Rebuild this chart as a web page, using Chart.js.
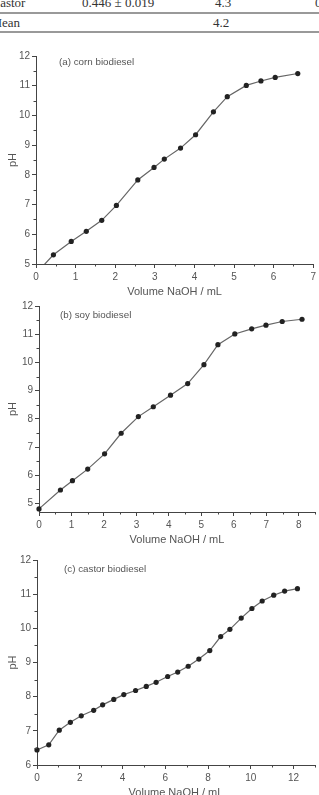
<!DOCTYPE html>
<html>
<head>
<meta charset="utf-8">
<script src="https://cdn.jsdelivr.net/npm/chart.js@4.4.1/dist/chart.umd.min.js"></script>
<style>
  html, body { margin: 0; padding: 0; background: #fff; }
  body { width: 319px; height: 795px; position: relative; overflow: hidden; }
  .cell { position: absolute; font-family: 'Liberation Serif', serif; font-size: 13px; color: #333; white-space: nowrap; line-height: 14px; }
  .rule { position: absolute; left: 0; width: 319px; background: #999; }
  .box { position: absolute; left: 0; }
  .label { position: absolute; font-family: 'Liberation Sans', Arial, sans-serif; font-size: 9.8px; color: #555; white-space: nowrap; line-height: 12px; }
</style>
</head>
<body>

<!-- bout de tableau coupé en haut -->
<div class="cell" style="left:-8.5px; top:-4px;">Castor</div>
<div class="cell" style="left:82px; top:-4px;">0.446 ± 0.019</div>
<div class="cell" style="left:215px; top:-4px;">4.3</div>
<div class="cell" style="left:315px; top:-4px;">0</div>
<div class="rule" style="top:12px; height:1.5px;"></div>
<div class="cell" style="left:-9.5px; top:16px;">Mean</div>
<div class="cell" style="left:213px; top:16px;">4.2</div>
<div class="rule" style="top:31px; height:1.5px;"></div>

<div class="box" style="top:40px; width:319px; height:261px;"><canvas id="cornChart"></canvas></div>
<div class="box" style="top:296px; width:319px; height:253px;"><canvas id="soyChart"></canvas></div>
<div class="box" style="top:546px; width:319px; height:256px;"><canvas id="castorChart"></canvas></div>

<div class="label" style="left:59px; top:56px;">(a) corn biodiesel</div>
<div class="label" style="left:60px; top:309px;">(b) soy biodiesel</div>
<div class="label" style="left:64px; top:563px;">(c) castor biodiesel</div>

<script>
// (a) milho
const cornVolume = [0, 0.44, 0.89, 1.27, 1.66, 2.03, 2.57, 2.98, 3.24, 3.65, 4.03, 4.48, 4.83, 5.31, 5.68, 6.04, 6.61];
const cornPH     = [4.68, 5.31, 5.76, 6.10, 6.47, 6.97, 7.83, 8.25, 8.53, 8.90, 9.35, 10.12, 10.63, 11.01, 11.16, 11.28, 11.41];

// (b) soja
const soyVolume = [0, 0.66, 1.03, 1.50, 2.02, 2.53, 3.06, 3.52, 4.05, 4.58, 5.08, 5.51, 6.03, 6.55, 6.99, 7.49, 8.10];
const soyPH     = [4.81, 5.48, 5.81, 6.22, 6.76, 7.49, 8.08, 8.43, 8.84, 9.25, 9.92, 10.63, 11.01, 11.19, 11.32, 11.45, 11.53];

// (c) mamona
const castorVolume = [0, 0.55, 1.04, 1.56, 2.07, 2.65, 3.07, 3.59, 4.06, 4.61, 5.11, 5.57, 6.11, 6.58, 7.07, 7.57, 8.08, 8.59, 9.02, 9.55, 10.05, 10.53, 11.07, 11.58, 12.18];
const castorPH     = [6.44, 6.59, 7.02, 7.25, 7.44, 7.60, 7.76, 7.92, 8.06, 8.18, 8.30, 8.42, 8.59, 8.72, 8.89, 9.10, 9.35, 9.76, 9.97, 10.30, 10.58, 10.80, 10.97, 11.09, 11.16];

// Rótulos dos eixos
const cornXTicks = [0, 1, 2, 3, 4, 5, 6, 7];
const cornYTicks = [5, 6, 7, 8, 9, 10, 11, 12];
const soyXTicks = [0, 1, 2, 3, 4, 5, 6, 7, 8];
const soyYTicks = [5, 6, 7, 8, 9, 10, 11, 12];
const castorXTicks = [0, 2, 4, 6, 8, 10, 12];
const castorYTicks = [6, 7, 8, 9, 10, 11, 12];

// Traços menores (sem rótulo)
const cornXMinor = [0.5, 1.5, 2.5, 3.5, 4.5, 5.5, 6.5];
const cornYMinor = [5.5, 6.5, 7.5, 8.5, 9.5, 10.5, 11.5];
const soyXMinor = [0.5, 1.5, 2.5, 3.5, 4.5, 5.5, 6.5, 7.5, 8.5];
const soyYMinor = [5.5, 6.5, 7.5, 8.5, 9.5, 10.5, 11.5];
const castorXMinor = [1, 3, 5, 7, 9, 11, 13];
const castorYMinor = [6.5, 7.5, 8.5, 9.5, 10.5, 11.5];

const axisColor = '#444';
const textColor = '#555';
const fontFamily = "'Liberation Sans', Arial, sans-serif";

// desenha os traços curtos entre os rótulos
const minorTicks = {
    id: 'minorTicks',
    afterDraw(chart, args, opts) {
        const ctx = chart.ctx;
        const xs = chart.scales.x, ys = chart.scales.y;
        ctx.save();
        ctx.strokeStyle = axisColor;
        ctx.lineWidth = 1;
        ctx.beginPath();
        (opts.x || []).forEach(v => {
            const px = Math.round(xs.getPixelForValue(v)) + 0.5;
            ctx.moveTo(px, ys.bottom);
            ctx.lineTo(px, ys.bottom + 2.5);
        });
        (opts.y || []).forEach(v => {
            const py = Math.round(ys.getPixelForValue(v)) + 0.5;
            ctx.moveTo(xs.left, py);
            ctx.lineTo(xs.left - 2.5, py);
        });
        ctx.stroke();
        ctx.restore();
    }
};

function makeChart(id, xs, ys, cfg) {
    const ctx = document.getElementById(id).getContext('2d');
    return new Chart(ctx, {
        type: 'line',
        data: {
            datasets: [{
                data: xs.map((x, i) => ({ x, y: ys[i] })),
                borderColor: '#666',
                borderWidth: 1.2,
                pointRadius: 2.6,
                pointBackgroundColor: '#222',
                pointBorderColor: '#222',
                pointBorderWidth: 0,
                tension: 0,
                clip: cfg.clip
            }]
        },
        options: {
            responsive: true,
            maintainAspectRatio: false,
            animation: false,
            layout: { padding: cfg.padding },
            plugins: {
                legend: { display: false },
                tooltip: { enabled: false },
                minorTicks: { x: cfg.xMinor, y: cfg.yMinor }
            },
            scales: {
                x: {
                    type: 'linear',
                    min: cfg.xMin,
                    max: cfg.xMax,
                    afterBuildTicks: s => { s.ticks = cfg.xTicks.map(v => ({ value: v })); },
                    afterFit: s => { s.height = 37; },
                    grid: { drawOnChartArea: false, drawTicks: true, tickLength: 4, color: axisColor },
                    border: { display: true, color: axisColor, width: 1 },
                    ticks: { color: textColor, font: { family: fontFamily, size: 10 }, padding: 3, maxRotation: 0 },
                    title: {
                        display: true,
                        text: 'Volume NaOH / mL',
                        color: textColor,
                        font: { family: fontFamily, size: 11 },
                        padding: { top: 0, bottom: 2 }
                    }
                },
                y: {
                    type: 'linear',
                    min: cfg.yMin,
                    max: cfg.yMax,
                    afterBuildTicks: s => { s.ticks = cfg.yTicks.map(v => ({ value: v })); },
                    afterFit: s => { s.width = cfg.yWidth; },
                    grid: { drawOnChartArea: false, drawTicks: true, tickLength: 4, color: axisColor },
                    border: { display: true, color: axisColor, width: 1 },
                    ticks: { color: textColor, font: { family: fontFamily, size: 10 }, padding: 2 },
                    title: {
                        display: true,
                        text: 'pH',
                        color: textColor,
                        font: { family: fontFamily, size: 11 },
                        padding: 6
                    }
                }
            }
        },
        plugins: [minorTicks]
    });
}

makeChart('cornChart', cornVolume, cornPH, {
    xMin: 0, xMax: 7, yMin: 5, yMax: 12,
    xTicks: cornXTicks, yTicks: cornYTicks, xMinor: cornXMinor, yMinor: cornYMinor,
    yWidth: 36, padding: { top: 16, right: 5, left: 0, bottom: 0 },
    clip: { left: 5, right: 5, top: 5, bottom: 0 }
});

makeChart('soyChart', soyVolume, soyPH, {
    xMin: 0, xMax: 8.5, yMin: 4.7, yMax: 12,
    xTicks: soyXTicks, yTicks: soyYTicks, xMinor: soyXMinor, yMinor: soyYMinor,
    yWidth: 39, padding: { top: 10, right: 2, left: 0, bottom: 0 },
    clip: false
});

makeChart('castorChart', castorVolume, castorPH, {
    xMin: 0, xMax: 13, yMin: 6, yMax: 12,
    xTicks: castorXTicks, yTicks: castorYTicks, xMinor: castorXMinor, yMinor: castorYMinor,
    yWidth: 37, padding: { top: 14, right: 2, left: 0, bottom: 0 },
    clip: false
});
</script>
</body>
</html>
